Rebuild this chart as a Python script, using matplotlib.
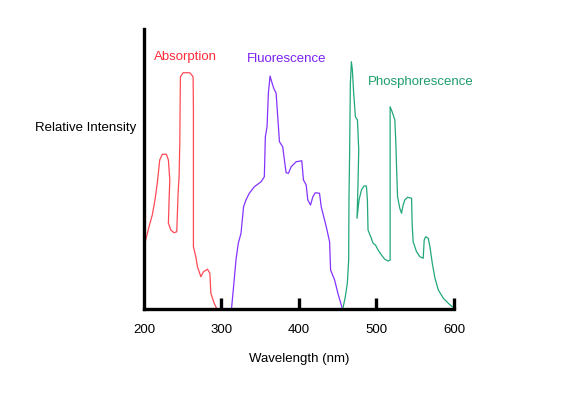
import matplotlib
matplotlib.use('Agg')
import matplotlib.pyplot as plt

plt.rcParams['font.family'] = ['Liberation Sans', 'DejaVu Sans']

# wavelength (nm) / relative intensity
abs_nm = [201.3, 206.5, 210.7, 214.2, 217.2, 220.3, 223.7, 228.9, 231.5, 233.3,
          232.4, 231.5, 234.6, 238.8, 242.3, 244.0, 245.3, 246.2, 247.0, 250.5,
          259.2, 263.4, 263.8, 263.8, 266.9, 269.0, 273.4, 276.8, 281.9, 285.0,
          286.3, 290.6, 293.6]
abs_int = [26.5, 32.9, 37.6, 43.6, 50.4, 59.6, 61.9, 61.9, 59.6, 51.6,
           43.6, 34.3, 31.6, 30.5, 30.9, 46.3, 52.9, 66.3, 92.9, 94.5,
           94.5, 92.9, 79.6, 24.9, 20.9, 16.9, 12.9, 14.9, 15.9, 14.3,
           6.3, 2.3, 0.3]

flu_nm = [313.0, 315.6, 318.7, 321.7, 325.2, 328.5, 331.6, 335.9, 342.4, 351.1,
          355.3, 356.6, 358.8, 360.5, 362.7, 364.8, 367.4, 370.5, 372.6, 374.8,
          379.0, 381.2, 383.4, 386.4, 389.9, 396.4, 403.6, 405.8, 409.3, 411.4,
          414.9, 417.9, 421.0, 426.5, 428.7, 430.8, 435.2, 439.5, 440.8, 446.0,
          450.2, 455.4]
flu_int = [0.3, 8.9, 19.6, 26.3, 30.3, 40.9, 43.6, 46.3, 48.9, 50.9,
           52.9, 68.9, 72.9, 86.3, 93.2, 90.9, 88.3, 86.3, 76.9, 66.9,
           64.9, 59.6, 54.5, 54.3, 56.9, 58.9, 59.3, 51.6, 49.6, 43.6,
           41.6, 44.9, 46.5, 46.3, 40.9, 38.3, 32.9, 26.9, 15.6, 11.6,
           6.3, 0.7]

pho_nm = [456.7, 459.8, 462.4, 464.1, 464.5, 465.4, 466.3, 467.6, 468.9, 470.6,
          472.8, 475.4, 476.2, 477.1, 476.2, 474.9, 477.5, 480.6, 483.9, 487.0,
          488.3, 489.1, 492.6, 495.6, 498.7, 502.1, 506.4, 510.7, 515.0, 517.6,
          517.6, 517.6, 520.2, 523.7, 525.0, 525.9, 527.2, 530.1, 532.3, 534.4,
          536.6, 540.1, 545.3, 546.0, 547.3, 551.7, 556.0, 560.3, 561.6, 563.4,
          566.8, 569.0, 572.0, 575.5, 579.8, 586.3, 592.6, 597.8]
pho_int = [0.3, 4.9, 10.3, 19.6, 43.6, 63.6, 90.3, 98.9, 95.6, 86.3,
           76.9, 75.6, 70.3, 63.6, 50.3, 36.3, 43.6, 47.6, 49.2, 49.2,
           43.6, 31.6, 28.9, 26.3, 25.6, 23.6, 21.6, 19.9, 19.2, 19.6,
           50.3, 80.9, 78.9, 75.6, 66.3, 56.9, 44.9, 40.3, 38.3, 41.6,
           43.6, 44.7, 44.3, 34.3, 26.9, 22.9, 20.9, 20.3, 27.6, 28.9,
           28.3, 24.9, 18.3, 12.3, 7.6, 4.3, 2.3, 0.9]

xticks = [300, 400, 500, 600]

fig = plt.figure(figsize=(5.86, 4.11), dpi=100)
ax = fig.add_axes([0.2457, 0.2482, 0.5290, 0.6812])

ax.plot(abs_nm, abs_int, color='#ff4a55', lw=0.9)
ax.plot(flu_nm, flu_int, color='#8433ff', lw=0.9)
ax.plot(pho_nm, pho_int, color='#22a878', lw=0.9)

ax.text(212.5, 101, 'Absorption', color='#ff2a3a', fontsize=9.5, va='center')
ax.text(333, 100.2, 'Fluorescence', color='#7a22f0', fontsize=9.5, va='center')
ax.text(488.5, 90.8, 'Phosphorescence', color='#1e9e6c', fontsize=9.5, va='center')
ax.text(190, 72.4, 'Relative Intensity', fontsize=9.5, ha='right', va='center',
        clip_on=False)

ax.set_xlim(200, 600)
ax.set_ylim(0, 112)
for s in ['top', 'right']:
    ax.spines[s].set_visible(False)
for s in ['left', 'bottom']:
    ax.spines[s].set_linewidth(2.4)
    ax.spines[s].set_color('black')
ax.set_yticks([])
ax.set_xticks([200] + xticks)
ax.set_xticklabels(['200', '300', '400', '500', '600'], fontsize=9.5)
ax.tick_params(axis='x', direction='in', length=8, width=2.4, pad=11)
ax.xaxis.get_major_ticks()[0].tick1line.set_visible(False)
ax.set_xlabel('Wavelength (nm)', fontsize=9.5, labelpad=12)

fig.savefig('out.png', dpi=100)
